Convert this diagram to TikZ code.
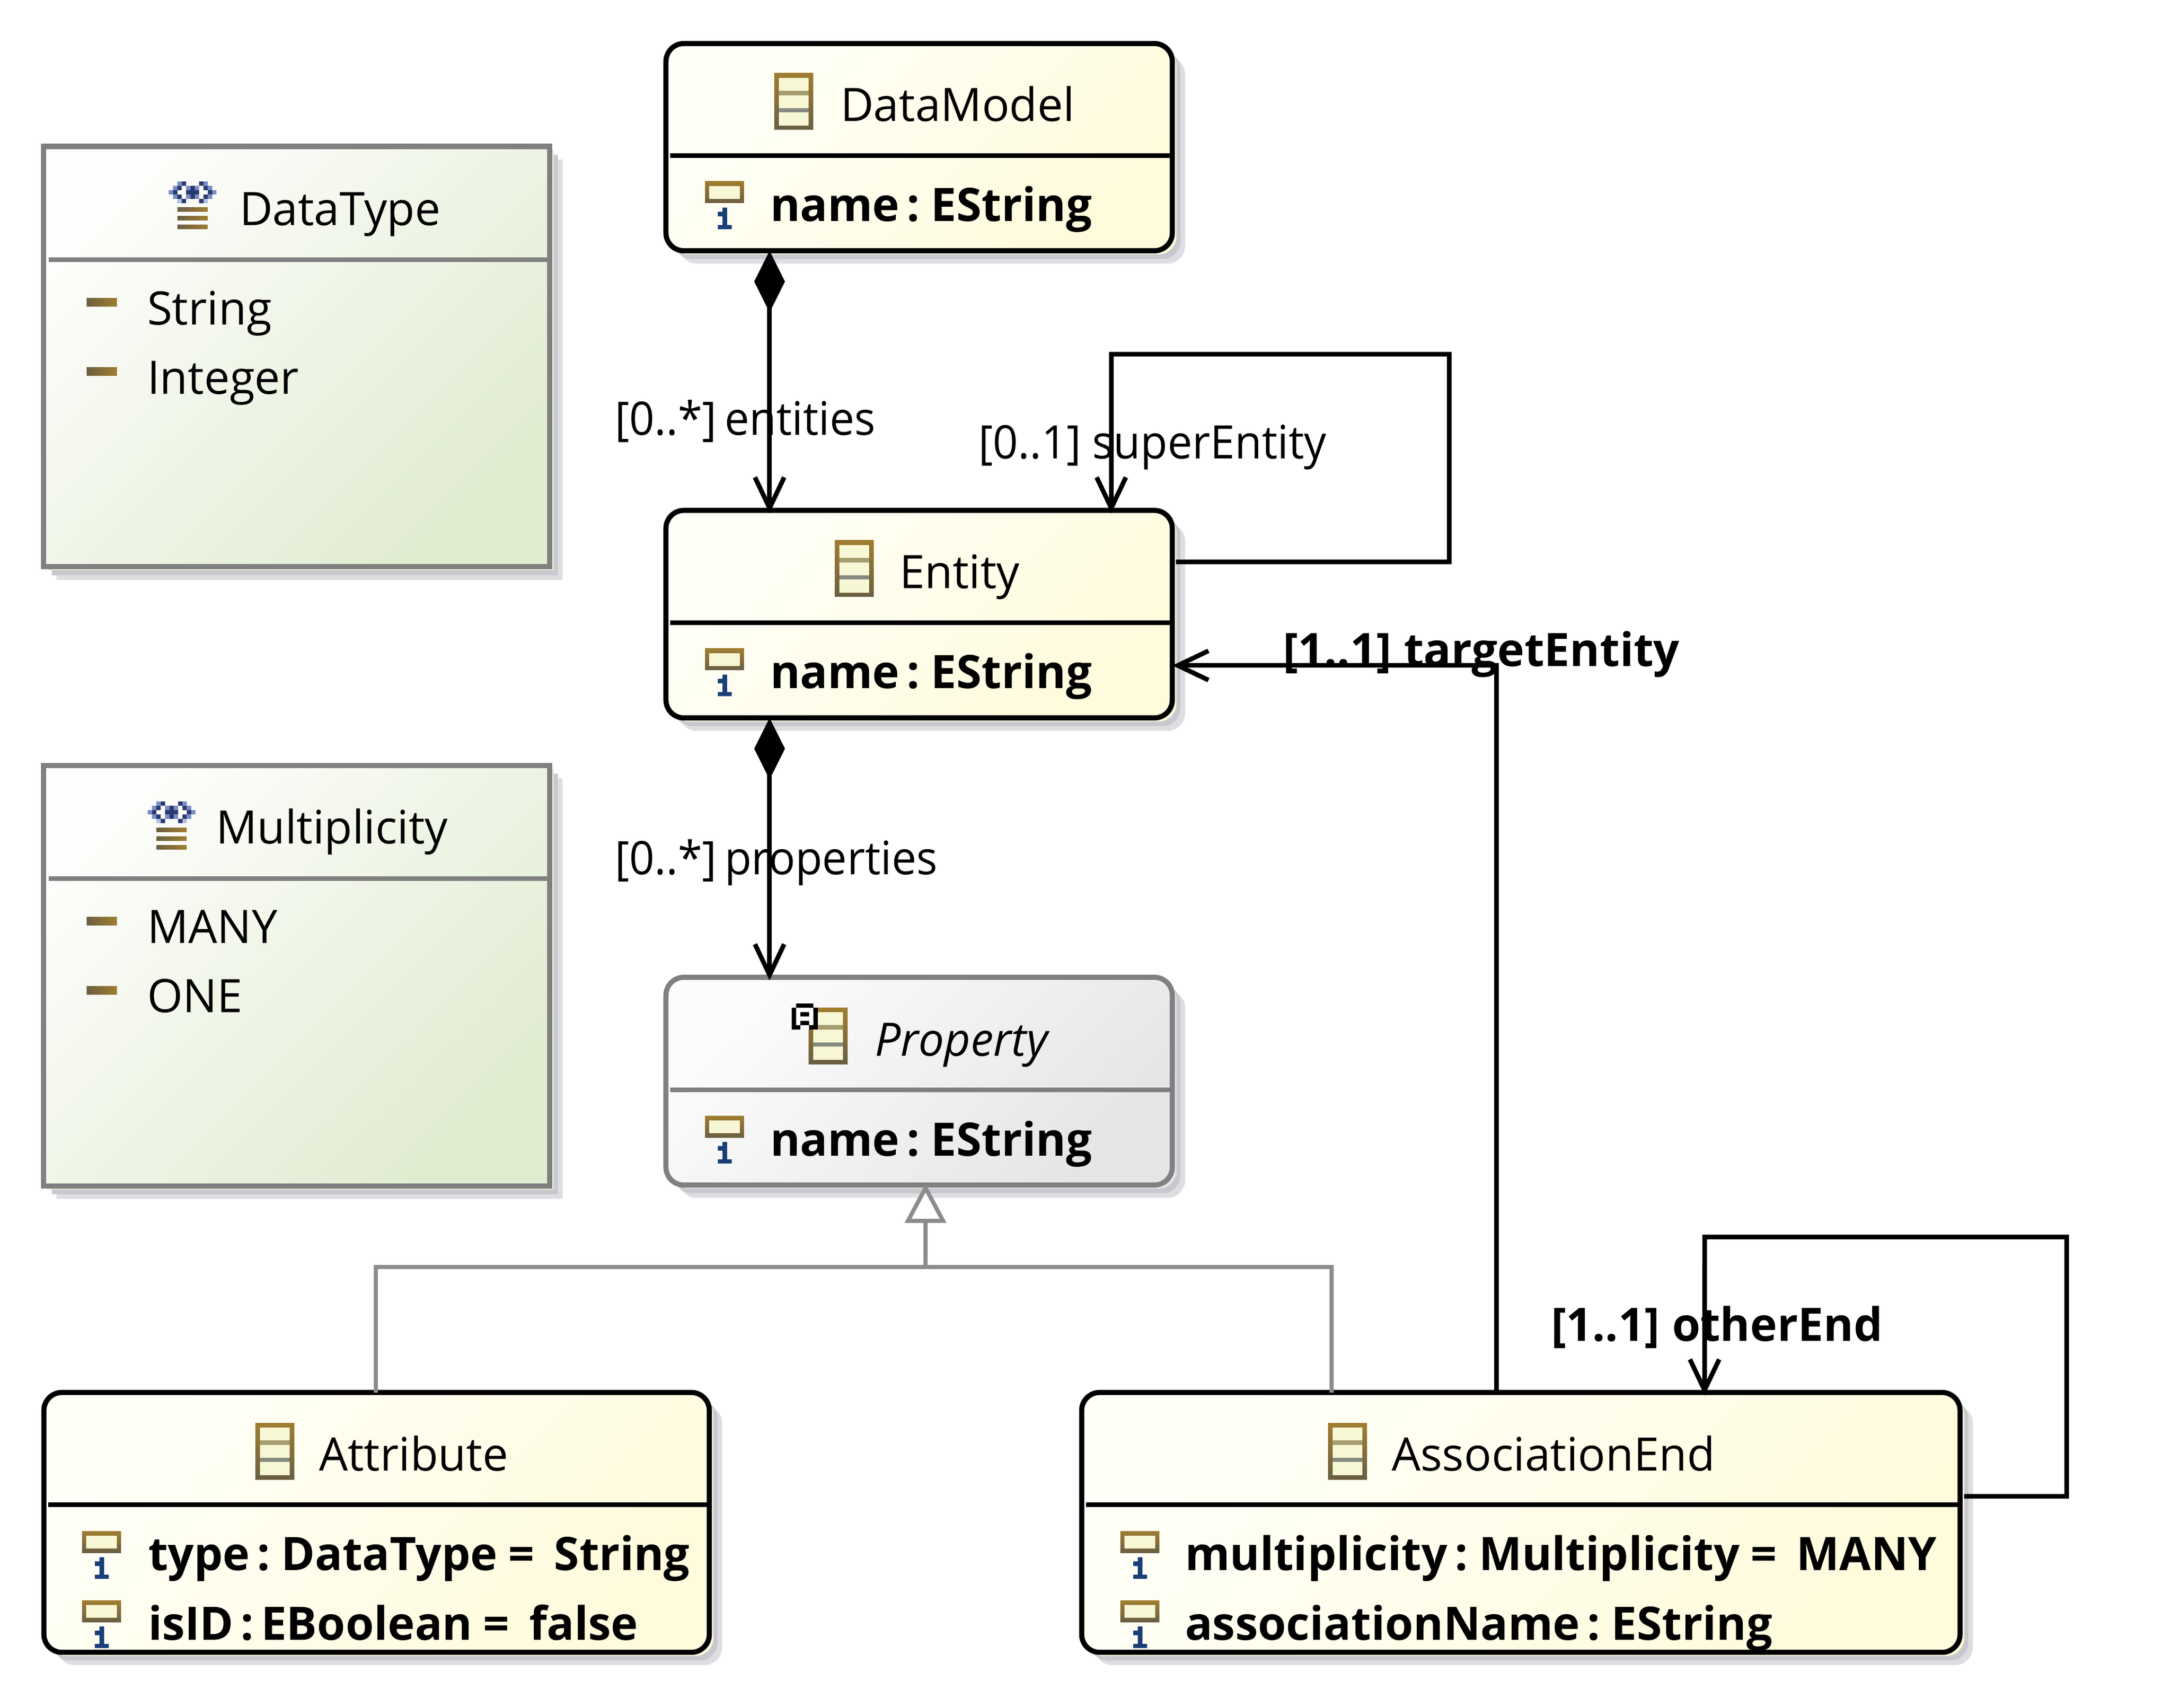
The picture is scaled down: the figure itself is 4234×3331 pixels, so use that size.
\documentclass[tikz,border=0pt]{standalone}
\usepackage{fontspec}
\setmainfont{Open Sans}[FakeStretch=0.99,BoldFeatures={WordSpace=0.6}]
\newfontfamily\rolefont{Open Sans}[FakeStretch=0.955]
\newcommand{\eqsign}{\hspace{6pt}=\hspace{11pt}}
\usetikzlibrary{arrows.meta,shadows}

\definecolor{classtop}{HTML}{FFFFF8}
\definecolor{classend}{HTML}{FFFBDC}
\definecolor{enumtop}{HTML}{FDFDFB}
\definecolor{enumend}{HTML}{E0ECD0}
\definecolor{abstop}{HTML}{FCFCFC}
\definecolor{absend}{HTML}{E5E5E5}
\definecolor{boxgray}{HTML}{808080}
\definecolor{gengray}{HTML}{8C8C8C}
\definecolor{shadelight}{HTML}{DEDDE2}
\definecolor{shadedark}{HTML}{C9C8CE}
\definecolor{iconup}{HTML}{A07E30}
\definecolor{icondown}{HTML}{6A5E42}
\definecolor{iconfill}{HTML}{F7F7D5}
\definecolor{bandtan}{HTML}{A69C6E}
\definecolor{bandgray}{HTML}{868A80}
\definecolor{onecolor}{HTML}{1A3E78}
\definecolor{eyedark}{HTML}{2A3A70}
\definecolor{eyemid}{HTML}{7A8CC8}
\definecolor{eyepale}{HTML}{B4BEE2}

\tikzset{
  every node/.style={inner sep=0pt,outer sep=0pt,font=\fontsize{25.6}{30}\selectfont},
  boxbase/.style={draw,line width=0.1cm,
    general shadow={fill=shadelight,shadow xshift=0.25cm,shadow yshift=-0.25cm},
    general shadow={fill=shadedark,shadow xshift=0.16cm,shadow yshift=-0.16cm}},
  classbox/.style={boxbase,rounded corners=0.35cm,
    general shadow={fill=classend,shadow xshift=0.08cm,shadow yshift=-0.07cm},
    top color=classtop,bottom color=classend,shading angle=45},
  absbox/.style={boxbase,draw=boxgray,rounded corners=0.35cm,
    general shadow={fill=absend,shadow xshift=0.08cm,shadow yshift=-0.07cm},
    top color=abstop,bottom color=absend,shading angle=45},
  enumbox/.style={boxbase,draw=boxgray,
    general shadow={fill=enumend,shadow xshift=0.08cm,shadow yshift=-0.07cm},
    top color=enumtop,bottom color=enumend,shading angle=45},
  sepline/.style={line width=0.09cm},
  txt/.style={anchor=base west,xshift=-0.04cm,yshift=-0.02cm},
  rolelabel/.style={txt,font=\fontsize{25.6}{30}\selectfont\rolefont},
  attr/.style={anchor=base west,xshift=-0.04cm,yshift=-0.02cm,font=\fontsize{25.6}{30}\selectfont\bfseries},
  refline/.style={line width=0.09cm,shorten >=-0.06cm,-{Straight Barb[length=0.6cm,width=0.57cm]}},
  compline/.style={line width=0.09cm,shorten >=-0.06cm,
    {Diamond[length=1.2cm,width=0.6cm,line width=0pt]}-{Straight Barb[length=0.6cm,width=0.57cm]}},
  genline/.style={line width=0.08cm,draw=gengray},
  classicon/.pic={
    \shade[top color=iconup,bottom color=icondown] (0,0) rectangle (76,110);
    \fill[iconfill] (9,9) rectangle (67,102);
    \fill[bandtan] (9,34) rectangle (67,43);
    \fill[bandgray] (9,68) rectangle (67,76);
  },
  attricon/.pic={
    \shade[top color=iconup,bottom color=icondown] (0,0) rectangle (76,42);
    \fill[iconfill] (8,9) rectangle (68,34);
    \fill[onecolor] (34,51) rectangle (43,93) (25,59) rectangle (34,68) (25,85) rectangle (52,93);
  },
  enumicon/.pic={
    \begin{scope}[x=0.0847cm,y=-0.0847cm]
    \fill[eyemid] (2,0) rectangle +(1,1) (8,0) rectangle +(1,1) (1,1) rectangle +(1,1) (4,1) rectangle +(1,1)
      (6,1) rectangle +(1,1) (9,1) rectangle +(1,1) (0,2) rectangle +(1,1) (10,2) rectangle +(1,1)
      (1,3) rectangle +(1,1) (4,3) rectangle +(1,1) (6,3) rectangle +(1,1) (9,3) rectangle +(1,1);
    \fill[eyepale] (2,4) rectangle +(1,1) (8,4) rectangle +(1,1);
    \fill[eyedark] (3,0) rectangle +(1,1) (7,0) rectangle +(1,1) (2,1) rectangle +(1,1) (5,1) rectangle +(1,1)
      (8,1) rectangle +(1,1) (1,2) rectangle +(1,1) (4,2) rectangle +(3,1) (9,2) rectangle +(1,1)
      (2,3) rectangle +(1,1) (5,3) rectangle +(1,1) (8,3) rectangle +(1,1) (3,4) rectangle +(1,1) (7,4) rectangle +(1,1);
    \end{scope}
    \shade[left color=icondown,right color=iconup] (17,51) rectangle (76,59);
    \shade[left color=icondown,right color=iconup] (17,68) rectangle (76,76);
    \shade[left color=icondown,right color=iconup] (17,85) rectangle (76,93);
  },
  literalicon/.pic={
    \shade[left color=icondown,right color=iconup] (0,0) rectangle (59,16);
  },
  absicon/.pic={
    \begin{scope}[x=0.0847cm,y=-0.0847cm]
    \fill[white] (1,1) rectangle (5,5) (2,5) rectangle (4,6);
    \fill[black] (1,0) rectangle (5,1) (0,1) rectangle (1,6) (5,1) rectangle (6,6)
      (1,5) rectangle (2,6) (4,5) rectangle (5,6) (2,2) rectangle (4,3) (2,4) rectangle (4,5);
    \end{scope}
  },
}

\begin{document}
\begin{tikzpicture}[x=0.01cm,y=-0.01cm]
  \useasboundingbox (0,0) rectangle (4234,3331);

  % DataType
  \node[enumbox,minimum width=9.87cm,minimum height=8.195cm] (datatype) at (578.5,695.5) {};
  \draw[sepline,boxgray] ([yshift=-2.205cm,xshift=0.1cm]datatype.north west) -- ([yshift=-2.205cm]datatype.north east);
  \pic at (329,354) {enumicon};
  \node[txt] (datatypetitle) at (471,438) {DataType};
  \pic at (169,582) {literalicon};
  \node[txt] (stringlit) at (291,632) {String};
  \pic at (169,717) {literalicon};
  \node[txt] (integerlit) at (291,767) {Integer};

  % Multiplicity
  \node[enumbox,minimum width=9.87cm,minimum height=8.195cm] (multiplicity) at (578.5,1902.5) {};
  \draw[sepline,boxgray] ([yshift=-2.205cm,xshift=0.1cm]multiplicity.north west) -- ([yshift=-2.205cm]multiplicity.north east);
  \pic at (288,1563) {enumicon};
  \node[txt] (multiplicitytitle) at (425,1643) {Multiplicity};
  \pic at (169,1788) {literalicon};
  \node[txt] (manylit) at (291,1837) {MANY};
  \pic at (169,1923) {literalicon};
  \node[txt] (onelit) at (291,1972) {ONE};

  % DataModel
  \node[classbox,minimum width=9.87cm,minimum height=4.04cm] (datamodel) at (1792.5,287) {};
  \draw[sepline] ([yshift=-2.185cm,xshift=0.08cm]datamodel.north west) -- ([yshift=-2.185cm]datamodel.north east);
  \pic at (1510,143) {classicon};
  \node[txt] (datamodeltitle) at (1643,235) {DataModel};
  \pic at (1375,354) {attricon};
  \node[attr] (datamodelname) at (1506,429.5) {name : EString};

  % Entity
  \node[classbox,minimum width=9.87cm,minimum height=4.045cm] (entity) at (1792.5,1197.75) {};
  \draw[sepline] ([yshift=-2.185cm,xshift=0.08cm]entity.north west) -- ([yshift=-2.185cm]entity.north east);
  \pic at (1628,1053.5) {classicon};
  \node[txt] (entitytitle) at (1758,1145.5) {Entity};
  \pic at (1375,1264.5) {attricon};
  \node[attr] (entityname) at (1506,1340) {name : EString};

  % Property
  \node[absbox,minimum width=9.87cm,minimum height=4.05cm] (property) at (1792.5,2108.5) {};
  \draw[sepline,boxgray] ([yshift=-2.19cm,xshift=0.08cm]property.north west) -- ([yshift=-2.19cm]property.north east);
  \pic at (1577,1965) {classicon};
  \pic at (1544,1957) {absicon};
  \node[txt,font=\fontsize{25.6}{30}\selectfont\itshape] (propertytitle) at (1710,2057.5) {Property};
  \pic at (1375,2176) {attricon};
  \node[attr] (propertyname) at (1506,2252) {name : EString};

  % Attribute
  \node[classbox,minimum width=12.97cm,minimum height=5.065cm] (attribute) at (734.5,2969) {};
  \draw[sepline] ([yshift=-2.19cm,xshift=0.08cm]attribute.north west) -- ([yshift=-2.19cm]attribute.north east);
  \pic at (498,2775) {classicon};
  \node[txt] (attributetitle) at (626,2866) {Attribute};
  \pic at (160,2986) {attricon};
  \node[attr] (typeattr) at (293,3060) {type : DataType\eqsign String};
  \pic at (160,3121) {attricon};
  \node[attr] (isidattr) at (293,3196.5) {isID : EBoolean\eqsign false};

  % AssociationEnd
  \node[classbox,minimum width=17.12cm,minimum height=5.065cm] (assocend) at (2966,2969) {};
  \draw[sepline] ([yshift=-2.19cm,xshift=0.08cm]assocend.north west) -- ([yshift=-2.19cm]assocend.north east);
  \pic at (2590,2775) {classicon};
  \node[txt] (assocendtitle) at (2718,2866) {AssociationEnd};
  \pic at (2185,2986) {attricon};
  \node[attr] (multattr) at (2315,3060) {multiplicity : Multiplicity\eqsign MANY};
  \pic at (2185,3121) {attricon};
  \node[attr] (nameattr) at (2315,3196.5) {associationName : EString};

  % containment
  \draw[compline] ([xshift=-2.915cm]datamodel.south) -- ([xshift=-2.915cm]entity.north);
  \draw[compline] ([xshift=-2.915cm]entity.south) -- ([xshift=-2.915cm]property.north);

  % references
  \draw[refline] ([xshift=0.07cm,yshift=1.0175cm]entity.east) -- ++(533,0) -- ++(0,-405) -- ++(-659,0) -- ([xshift=3.745cm]entity.north);
  \draw[refline] ([xshift=-0.48cm]assocend.north) |- ([xshift=0.06cm,yshift=-1.0cm]entity.east);
  \draw[refline] ([xshift=0.08cm,yshift=0.51cm]assocend.east) -- ++(200,0) -- ++(0,-505.5) -- ++(-706,0) -- ([xshift=3.58cm]assocend.north);

  % inheritance
  \coordinate (genjoin) at (1805,2471);
  \draw[genline] ([xshift=-0.015cm]attribute.north) |- (genjoin) -| ([xshift=-3.69cm]assocend.north);
  \draw[genline,-{Triangle[open,fill=white,length=0.77cm,width=0.8cm]}] (genjoin) -- ([xshift=0.125cm,yshift=0.03cm]property.south);

  % role names
  \node[rolelabel] (entitieslabel) at (1203,846) {[0..*]\hspace{-2pt} entities};
  \node[rolelabel] (superlabel) at (1912,892) {[0..1] superEntity};
  \node[attr] (targetlabel) at (2506,1297.5) {[1..1]\hspace{3pt} targetEntity};
  \node[rolelabel] (propertieslabel) at (1203,1703) {[0..*]\hspace{-2pt} properties};
  \node[attr] (otherlabel) at (3029,2613) {[1..1]\hspace{3pt} otherEnd};
\end{tikzpicture}
\end{document}
